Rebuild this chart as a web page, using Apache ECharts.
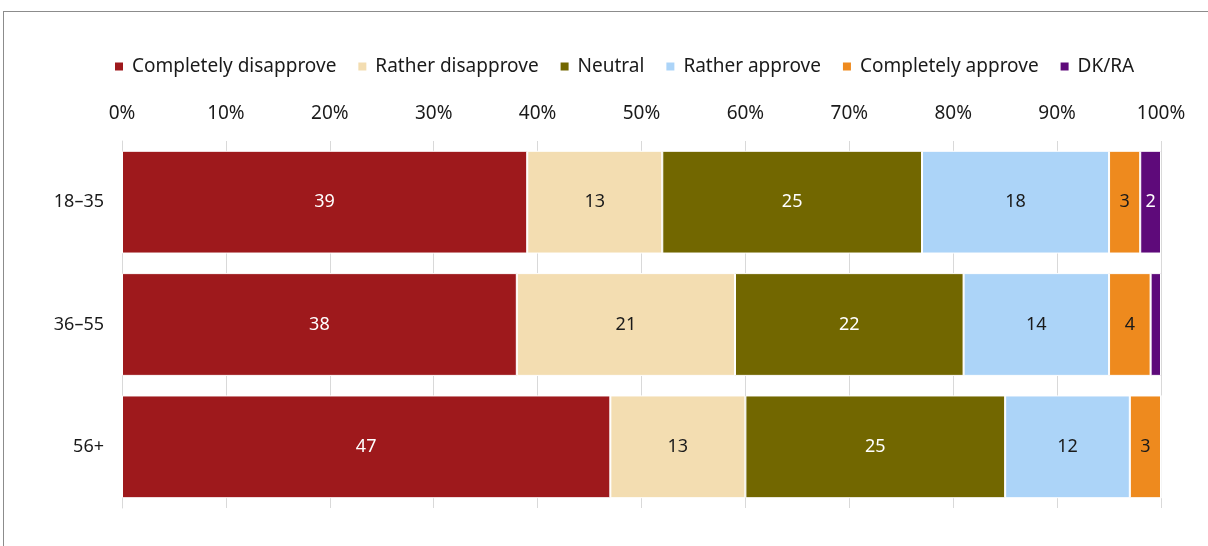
<!DOCTYPE html>
<html>
<head>
<meta charset="utf-8">
<script src="https://cdn.jsdelivr.net/npm/echarts@6/dist/echarts.min.js"></script>
<style>
  html, body { margin: 0; padding: 0; background: #fff; overflow: hidden; }
  #frame {
    position: absolute; left: 3px; top: 11px; width: 1300px; height: 600px;
    border: 1px solid #8c8c8c; box-sizing: border-box;
  }
  #chart { position: absolute; left: 0; top: 0; width: 1208px; height: 546px; }
</style>
</head>
<body>
<div id="frame"></div>
<div id="chart"></div>
<script>
var ageGroups = ["18–35", "36–55", "56+"];
var seriesNames = ["Completely disapprove", "Rather disapprove", "Neutral", "Rather approve", "Completely approve", "DK/RA"];
var values = [
  [39, 38, 47],
  [13, 21, 13],
  [25, 22, 25],
  [18, 14, 12],
  [3, 4, 3],
  [2, 1, 0]
];
var colors = ["#9E191C", "#F3DDB1", "#726700", "#ACD4F8", "#EE8A1E", "#5E0A7A"];
var labelColors = ["#fff", "#1a1a1a", "#fff", "#1a1a1a", "#1a1a1a", "#fff"];
var fontName = "Noto Sans";

var myChart = echarts.init(document.getElementById("chart"));

var series = seriesNames.map(function (name, i) {
  return {
    name: name,
    type: "bar",
    stack: "total",
    barCategoryGap: "16%",
    data: values[i],
    itemStyle: { color: colors[i], borderColor: "#fff", borderWidth: 1 },
    label: {
      show: true,
      position: "inside",
      color: labelColors[i],
      fontFamily: fontName,
      fontSize: 18,
      formatter: function (p) { return p.value >= 2 ? p.value : ""; }
    }
  };
});

myChart.setOption({
  animation: false,
  color: colors,
  textStyle: { fontFamily: fontName },
  legend: {
    top: 52,
    left: 108,
    itemWidth: 10,
    itemHeight: 10,
    itemGap: 20,
    icon: "rect",
    textStyle: { fontSize: 19, color: "#1a1a1a", fontFamily: fontName, padding: [0, 0, 0, 3] },
    data: seriesNames
  },
  grid: { left: 122, right: 47, top: 141, bottom: 38 },
  xAxis: {
    type: "value",
    position: "top",
    min: 0,
    max: 100,
    interval: 10,
    axisLabel: {
      formatter: "{value}%",
      fontSize: 19,
      color: "#1a1a1a",
      margin: 18
    },
    axisLine: { show: false },
    axisTick: { show: false },
    splitLine: { show: true, lineStyle: { color: "#d9d9d9", width: 1 } }
  },
  yAxis: {
    type: "category",
    inverse: true,
    data: ageGroups,
    axisLabel: { fontSize: 18, color: "#1a1a1a", margin: 18 },
    axisLine: { show: true, lineStyle: { color: "#d9d9d9" } },
    axisTick: { show: false }
  },
  series: series
});
</script>
</body>
</html>
